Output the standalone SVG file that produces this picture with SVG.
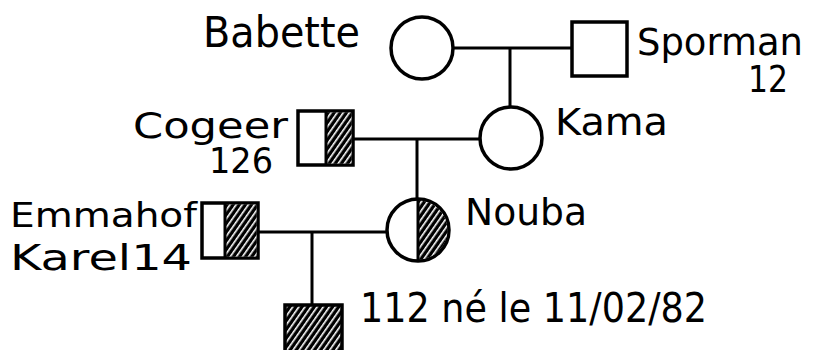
<svg xmlns="http://www.w3.org/2000/svg" width="816" height="350" viewBox="0 0 816 350">
  <style>
    .shape { fill: #fff; stroke: #000; stroke-width: 3.5; }
    .hatch { fill: url(#hatch); stroke: none; }
    .link { fill: none; stroke: #000; stroke-width: 3; }
    .lbl { font-family: "DejaVu Sans", "Liberation Sans", sans-serif; fill: #000; }
  </style>
  <defs>
    <pattern id="hatch" width="5" height="5" patternUnits="userSpaceOnUse" patternTransform="rotate(35)">
      <rect width="5" height="5" fill="#000"/>
      <rect x="0" y="0" width="1.6" height="5" fill="#fff"/>
    </pattern>
    <clipPath id="noubaRight">
      <rect x="418" y="190" width="40" height="80"/>
    </clipPath>
  </defs>
  <rect width="816" height="350" fill="#fff"/>

  <!-- couple and descent lines -->
  <g id="connectors">
    <path class="link" d="M453 48 H572"/>
    <path class="link" d="M510 48 V107"/>
    <path class="link" d="M353 139 H480"/>
    <path class="link" d="M417 139 V199"/>
    <path class="link" d="M258 232 H387"/>
    <path class="link" d="M312 232 V305"/>
  </g>

  <g id="babette">
    <circle class="shape" cx="422" cy="48" r="31"/>
    <text class="lbl" x="203" y="47" font-size="42" textLength="157" lengthAdjust="spacingAndGlyphs">Babette</text>
  </g>

  <g id="sporman">
    <rect class="shape" x="572" y="22" width="55" height="54"/>
    <text class="lbl" x="637" y="55" font-size="38" textLength="166" lengthAdjust="spacingAndGlyphs">Sporman</text>
    <text class="lbl" x="748" y="92" font-size="37" textLength="40" lengthAdjust="spacingAndGlyphs">12</text>
  </g>

  <g id="kama">
    <circle class="shape" cx="511" cy="138" r="31"/>
    <text class="lbl" x="555" y="135" font-size="37" textLength="113" lengthAdjust="spacingAndGlyphs">Kama</text>
  </g>

  <g id="cogeer">
    <rect class="shape" x="298" y="111" width="55" height="54"/>
    <rect class="hatch" x="326" y="112.5" width="25.5" height="51"/>
    <path class="link" d="M326 111 V165"/>
    <text class="lbl" x="133" y="138" font-size="36" textLength="155" lengthAdjust="spacingAndGlyphs">Cogeer</text>
    <text class="lbl" x="209" y="173" font-size="36" textLength="64" lengthAdjust="spacingAndGlyphs">126</text>
  </g>

  <g id="nouba">
    <circle class="shape" cx="418" cy="230" r="31"/>
    <circle class="hatch" cx="418" cy="230" r="29.5" clip-path="url(#noubaRight)"/>
    <path class="link" d="M418 199 V261"/>
    <text class="lbl" x="465" y="225" font-size="38" textLength="122" lengthAdjust="spacingAndGlyphs">Nouba</text>
  </g>

  <g id="emmahof">
    <rect class="shape" x="202" y="203" width="56" height="55"/>
    <rect class="hatch" x="225" y="204.5" width="31.5" height="52"/>
    <path class="link" d="M225 203 V258"/>
    <text class="lbl" x="10" y="227" font-size="34" textLength="187" lengthAdjust="spacingAndGlyphs">Emmahof</text>
    <text class="lbl" x="10" y="270" font-size="35" textLength="182" lengthAdjust="spacingAndGlyphs">Karel14</text>
  </g>

  <g id="child">
    <rect class="shape" x="285" y="305" width="57" height="57" style="fill:url(#hatch)"/>
    <text class="lbl" x="360" y="322" font-size="40" textLength="347" lengthAdjust="spacingAndGlyphs">112 né le 11/02/82</text>
  </g>
</svg>
